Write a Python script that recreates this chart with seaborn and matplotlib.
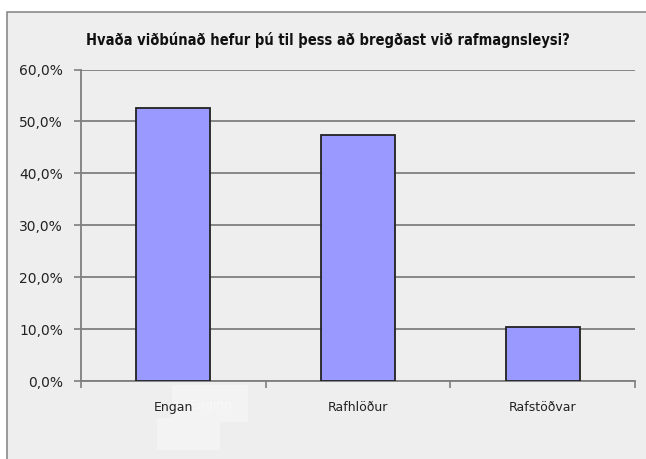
import matplotlib
matplotlib.use("Agg")
import matplotlib.pyplot as plt
import seaborn as sns
import pandas as pd
from matplotlib.patches import Rectangle
from matplotlib.ticker import FuncFormatter, FixedLocator

title = "Hvaða viðbúnað hefur þú til þess að bregðast við rafmagnsleysi?"
categories = ["Engan", "Rafhlöður", "Rafstöðvar"]
values = [52.6, 47.3, 10.4]
yticks = [0, 10, 20, 30, 40, 50, 60]

sns.set_theme(style="white")
plt.rcParams['font.family'] = ['DejaVu Sans']

df = pd.DataFrame({"cat": categories, "val": values})

W, H = 646, 459
fig = plt.figure(figsize=(W / 100, H / 100), dpi=100, facecolor="white")

bg = "#eeeeee"
bgax = fig.add_axes([0, 0, 1, 1], zorder=0)
bgax.set_xlim(0, W)
bgax.set_ylim(H, 0)
bgax.axis("off")
bgax.add_patch(Rectangle((7, 12), W, H, facecolor=bg, edgecolor="#8a8a8a", linewidth=1.2))
bgax.add_patch(Rectangle((172, 385), 76, 37, facecolor="#f3f3f3", edgecolor="none"))
bgax.add_patch(Rectangle((157, 418), 63, 32, facecolor="#f3f3f3", edgecolor="none"))
bgax.text(211, 405, "Enginn", color="#f8f8f8", fontsize=9, ha="center", va="center")

ax = fig.add_axes([81 / W, 1 - 381.3 / H, (635 - 81) / W, (381.3 - 69.5) / H], zorder=2)
ax.set_facecolor("none")

sns.barplot(data=df, x="cat", y="val", ax=ax, color="#9999ff", saturation=1,
            width=0.4, edgecolor="#222222", linewidth=1.3, zorder=3)

ax.set_xlim(-0.5, len(categories) - 0.5)
ax.set_ylim(0, 60)
ax.set_yticks(yticks)
ax.yaxis.set_major_formatter(FuncFormatter(lambda v, p: f"{v:.1f}".replace(".", ",") + "%"))
ax.grid(axis="y", color="#7f7f7f", linewidth=1.3, zorder=1)
ax.set_axisbelow(True)
ax.set_xlabel("")
ax.set_ylabel("")

for s in ["top", "right"]:
    ax.spines[s].set_visible(False)
for s in ["left", "bottom"]:
    ax.spines[s].set_color("#7f7f7f")
    ax.spines[s].set_linewidth(1.3)

ax.tick_params(axis="y", which="major", length=5, width=1.2, color="#7f7f7f",
               direction="out", labelsize=10, labelcolor="#222222", pad=8, left=True)
ax.tick_params(axis="x", which="major", length=0, labelsize=9, labelcolor="#222222", pad=14)
ax.xaxis.set_minor_locator(FixedLocator([i - 0.5 for i in range(len(categories) + 1)]))
ax.tick_params(axis="x", which="minor", length=5, width=1.2, color="#7f7f7f",
               direction="out", bottom=True)

bgax.text(328, 40, title, ha="center", va="center",
          fontsize=10.5, fontweight="bold", fontstretch="condensed", color="#111111",
          family=["DejaVu Sans"])

fig.savefig("out.png", dpi=100, facecolor="white")
